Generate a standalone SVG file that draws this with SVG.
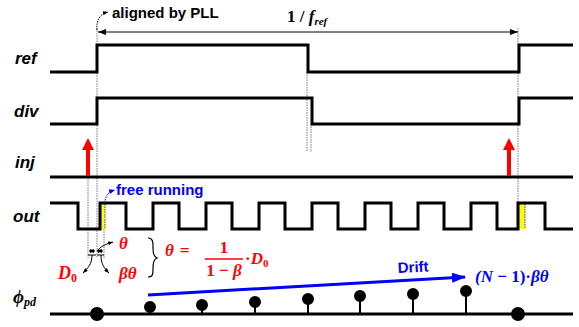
<svg xmlns="http://www.w3.org/2000/svg" width="579" height="327" viewBox="0 0 579 327">
<defs>
<style>
.wave{fill:none;stroke:#000;stroke-width:3;stroke-linejoin:miter}
.dot{fill:none;stroke:#555;stroke-width:0.8;stroke-dasharray:1.5,1}
.bdot{fill:none;stroke:#00f;stroke-width:0.8;stroke-dasharray:1.5,1}
.lbl{font-family:"Liberation Sans",Arial,sans-serif;font-weight:bold;font-style:italic;font-size:17px;fill:#000}
.sans{font-family:"Liberation Sans",Arial,sans-serif;font-weight:bold}
.math{font-family:"Liberation Serif","Times New Roman",serif;font-weight:bold;font-style:italic}
.up{font-style:normal}
.it{font-style:italic}
.red{fill:#f00}
.blue{fill:#00f}
.thin{fill:none;stroke:#000;stroke-width:1}
</style>
<marker id="ah" markerWidth="8" markerHeight="6" refX="8" refY="3" orient="auto-start-reverse" markerUnits="userSpaceOnUse">
<path d="M0,0 L8,3 L0,6 z" fill="#000"/>
</marker>
<marker id="ahs" markerWidth="5" markerHeight="4" refX="5" refY="2" orient="auto-start-reverse" markerUnits="userSpaceOnUse">
<path d="M0,0 L5,2 L0,4 z" fill="#000"/>
</marker>
<marker id="ahb" markerWidth="14" markerHeight="10" refX="13" refY="5" orient="auto" markerUnits="userSpaceOnUse">
<path d="M0,0 L14,5 L0,10 z" fill="#00f"/>
</marker>
<marker id="ahbs" markerWidth="6" markerHeight="5" refX="6" refY="2.5" orient="auto" markerUnits="userSpaceOnUse">
<path d="M0,0 L6,2.5 L0,5 z" fill="#00f"/>
</marker>
</defs>

<g id="guides">
<path class="dot" d="M97,28 V258"/>
<path class="dot" d="M88,177 V258"/>
<path class="dot" d="M104,229 V258"/>
<path class="dot" d="M307,72 V152"/>
<path class="dot" d="M311,124 V152"/>
<path class="dot" d="M518,28 V204"/>
</g>

<g id="ref">
<text class="lbl" x="15" y="64">ref</text>
<path class="wave" d="M50,72 H97 V45 H308 V72 H519 V45 H573"/>
</g>

<g id="div">
<text class="lbl" x="14" y="117">div</text>
<path class="wave" d="M50,124 H97 V98 H312 V124 H519 V98 H573"/>
</g>

<g id="inj">
<text class="lbl" x="15" y="168">inj</text>
<path class="wave" d="M50,177 H573"/>
<path d="M86,176 V150 H82 L88,138 L94,150 H90 V176 z" fill="#f00"/>
<path d="M507,176 V150 H503 L509,138 L515,150 H511 V176 z" fill="#f00"/>
</g>

<g id="out">
<text class="lbl" x="13" y="222">out</text>
<rect x="100" y="204" width="5" height="25" fill="#ff0"/>
<rect x="519" y="204" width="6" height="25" fill="#ff0"/>
<path class="bdot" d="M105,204 V229"/>
<path class="bdot" d="M525,204 V229"/>
<path class="wave" d="M50,203 H78 V229 H100 V203 H126 V229 H153 V203 H179 V229 H206 V203 H232 V229 H259 V203 H285 V229 H312 V203 H338 V229 H365 V203 H391 V229 H418 V203 H444 V229 H471 V203 H497 V229 H518 V203 H545 V229 H573"/>
</g>

<g id="phase">
<text class="math" x="13" y="303" font-size="19">ϕ<tspan font-size="12" dy="3">pd</tspan></text>
<path class="wave" d="M50,314 H573"/>
<g fill="#000" stroke="#000" stroke-width="2">
<circle cx="97" cy="314" r="6"/>
<path d="M150,307 V314 M202,305 V314 M255,302 V314 M308,299 V314 M360,296 V314 M413,294 V314 M466,291 V314"/>
<circle cx="150" cy="307" r="5"/>
<circle cx="202" cy="305" r="5"/>
<circle cx="255" cy="302" r="5"/>
<circle cx="308" cy="299" r="5"/>
<circle cx="360" cy="296" r="5"/>
<circle cx="413" cy="294" r="5"/>
<circle cx="466" cy="291" r="5"/>
<circle cx="518" cy="314" r="6"/>
</g>
</g>

<g id="connectors">
<path class="thin" d="M98,32 H518" marker-start="url(#ah)" marker-end="url(#ah)"/>
<path d="M97,30 C96,20 100,14 108,12" fill="none" stroke="#000" stroke-width="1" stroke-dasharray="1.5,1" marker-end="url(#ahs)"/>
<path d="M105,203 C105,196 108,192 115,190" fill="none" stroke="#00f" stroke-width="1" stroke-dasharray="1.5,1" marker-end="url(#ahbs)"/>
<path d="M148,295 L465,277" fill="none" stroke="#00f" stroke-width="3" marker-end="url(#ahb)"/>
<path class="thin" d="M89,251 H95" marker-start="url(#ahs)" marker-end="url(#ahs)"/>
<path class="thin" d="M97,251 H103" marker-start="url(#ahs)" marker-end="url(#ahs)"/>
<path class="thin" d="M88,255 H96 M97,255 H104"/>
<path class="thin" d="M97,251 C101,246 106,244 113,242" marker-end="url(#ahs)"/>
<path class="thin" d="M92,255 C92,264 88,268 83,273" marker-end="url(#ahs)"/>
<path class="thin" d="M101,255 C101,264 104,268 109,273" marker-end="url(#ahs)"/>
<path d="M148,238 C153,238 153,242 153,248 C153,254 154,257 157,258 C154,259 153,262 153,268 C153,274 153,277 148,277" fill="none" stroke="#000" stroke-width="1.2"/>
</g>

<g id="labels">
<text class="sans" x="112" y="18" font-size="15">aligned by PLL</text>
<text class="math up" x="287" y="22" font-size="17">1 / <tspan class="it">f</tspan><tspan class="it" font-size="11" dy="3">ref</tspan></text>
<text class="sans blue" x="116" y="195" font-size="15">free running</text>
<text class="sans blue" x="398" y="273" font-size="15" transform="rotate(-3 398 273)">Drift</text>
<text class="math blue" x="475" y="282" font-size="17">(<tspan>N</tspan><tspan class="up"> − 1)·</tspan>βθ</text>
<text class="math red" x="119" y="249" font-size="17">θ</text>
<text class="math red" x="58" y="279" font-size="18">D<tspan class="up" font-size="12" dy="3">0</tspan></text>
<text class="math red" x="119" y="279" font-size="17">βθ</text>
<text class="math red" x="165" y="256" font-size="17">θ <tspan class="up" dx="2">=</tspan></text>
<text class="math red up" x="224" y="253" font-size="17" text-anchor="middle">1</text>
<path d="M205,259 H243" stroke="#f00" stroke-width="1.5"/>
<text class="math red up" x="224" y="276" font-size="17" text-anchor="middle">1 − <tspan class="it">β</tspan></text>
<text class="math red" x="245" y="264" font-size="17"><tspan class="up">·</tspan>D<tspan class="up" font-size="11" dy="3">0</tspan></text>
</g>
</svg>
